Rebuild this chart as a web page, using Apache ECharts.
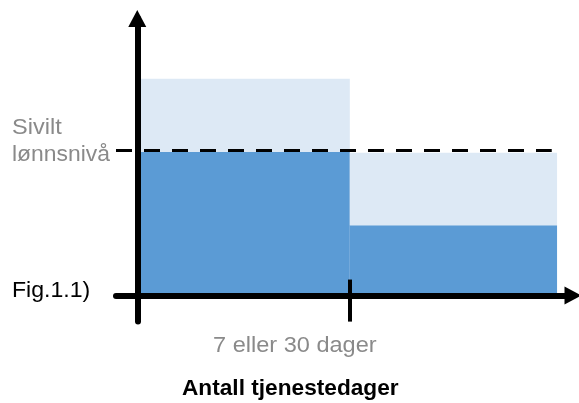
<!DOCTYPE html>
<html>
<head>
<meta charset="utf-8">
<script src="https://cdn.jsdelivr.net/npm/echarts@6/dist/echarts.min.js"></script>
<style>
html,body{margin:0;padding:0;background:#fff;}
#c{width:579px;height:403px;}
</style>
</head>
<body>
<div id="c"></div>
<script>
// Segment boundaries along the x axis (service days, schematic units)
const segStart = [0, 1];
const segEnd = [1, 1.975];
// Dark blue level (basis) and light blue top level per segment
const baseLevel = [99, 48.5];
const topLevel = [149.5, 98.5];
// Civil wage level (dashed reference line)
const civilLevel = 100;
const civilLineX = [-0.1, 1.95];
// Tick mark at the 7/30 day boundary
const boundaryX = 1;
const boundaryTick = [-18, 11];
// Texts
const yLabelLines = ['Sivilt', 'lønnsnivå'];
const figLabel = 'Fig.1.1)';
const xTickLabel = '7 eller 30 dager';
const xTitle = 'Antall tjenestedager';

const DARK = '#5B9BD5';
const LIGHT = '#DDE9F5';
const GRAY = '#8a8a8a';
const FONT = '22px Liberation Sans, Arial, sans-serif';

const darkData = segStart.map((s, i) => [s, segEnd[i], 0, baseLevel[i]]);
const lightData = segStart.map((s, i) => [s, segEnd[i], baseLevel[i], topLevel[i]]);

function rectRenderer(color) {
  return function (params, api) {
    const p0 = api.coord([api.value(0), api.value(3)]);
    const p1 = api.coord([api.value(1), api.value(2)]);
    return {
      type: 'rect',
      shape: { x: p0[0], y: p0[1], width: p1[0] - p0[0], height: p1[1] - p0[1] },
      style: { fill: color }
    };
  };
}

const chart = echarts.init(document.getElementById('c'), null, { renderer: 'canvas' });
const axisLineStyle = { color: '#000', width: 6 };
chart.setOption({
  animation: false,
  grid: { left: 116, right: 6, top: 18.6, bottom: 81.4, containLabel: false },
  xAxis: {
    type: 'value', min: -0.1, max: 2.05, z: 5,
    axisLine: { show: true, onZero: true, lineStyle: axisLineStyle, symbol: ['none', 'triangle'], symbolSize: [18, 17] },
    axisTick: { show: false }, axisLabel: { show: false }, splitLine: { show: false }
  },
  yAxis: {
    type: 'value', min: -18, max: 191, z: 5,
    axisLine: { show: true, onZero: true, lineStyle: axisLineStyle, symbol: ['none', 'triangle'], symbolSize: [18, 17] },
    axisTick: { show: false }, axisLabel: { show: false }, splitLine: { show: false }
  },
  series: [
    {
      type: 'custom', name: 'basis', renderItem: rectRenderer(DARK), data: darkData, z: 2,
      encode: { x: [0, 1], y: [2, 3] }
    },
    {
      type: 'custom', name: 'tillegg', renderItem: rectRenderer(LIGHT), data: lightData, z: 2,
      encode: { x: [0, 1], y: [2, 3] },
      markLine: {
        silent: true, symbol: 'none', label: { show: false }, z: 4,
        data: [
          [
            { coord: [civilLineX[0], civilLevel], lineStyle: { color: '#000', width: 3, type: [16, 12] } },
            { coord: [civilLineX[1], civilLevel] }
          ],
          [
            { coord: [boundaryX, boundaryTick[0]], lineStyle: { color: '#000', width: 4, type: 'solid' } },
            { coord: [boundaryX, boundaryTick[1]] }
          ]
        ]
      }
    }
  ],
  graphic: [
    { type: 'text', left: 12, top: 117, scaleX: 1.07, style: { text: yLabelLines[0], font: FONT, fill: GRAY } },
    { type: 'text', left: 12, top: 143.5, scaleX: 1.04, style: { text: yLabelLines[1], font: FONT, fill: GRAY } },
    { type: 'text', left: 12, top: 280, scaleX: 1.05, style: { text: figLabel, font: FONT, fill: '#000' } },
    { type: 'text', left: 213, top: 335, scaleX: 1.07, style: { text: xTickLabel, font: FONT, fill: GRAY } },
    { type: 'text', left: 182, top: 378, scaleX: 1.03, style: { text: xTitle, font: 'bold ' + FONT, fill: '#000' } }
  ]
});
</script>
</body>
</html>
